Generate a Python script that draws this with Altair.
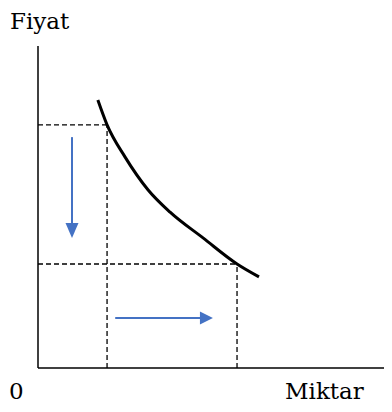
import altair as alt
import pandas as pd

# Demand curve (Miktar, Fiyat) in arbitrary units
curve_q = [1.69, 1.95, 2.46, 3.11, 3.73, 4.66, 5.62, 6.24]
curve_p = [8.32, 7.55, 6.55, 5.53, 4.84, 4.04, 3.23, 2.83]

# Two price/quantity combinations marked by dashed guides
guide_q = [1.95, 5.62]
guide_p = [7.55, 3.23]

# Arrows: price falls, quantity rises
down_q = 0.96
down_p = [7.17, 4.04]
right_p = 1.55
right_q = [2.18, 4.94]

q_max = 9.77
p_max = 10
labels = ["Fiyat", "0", "Miktar"]

BLUE = "#4472C4"
FONT = "DejaVu Serif"
FS = 23

xs = alt.Scale(domain=[0, q_max], nice=False, zero=False)
ys = alt.Scale(domain=[0, p_max], nice=False, zero=False)

curve_df = pd.DataFrame({"q": curve_q, "p": curve_p})

seg_rows = []
for q, p in zip(guide_q, guide_p):
    seg_rows.append({"q": 0, "q2": q, "p": p, "p2": p})
    seg_rows.append({"q": q, "q2": q, "p": 0, "p2": p})
seg_df = pd.DataFrame(seg_rows)

axis_df = pd.DataFrame([
    {"q": 0, "q2": 0, "p": 0, "p2": p_max},
    {"q": 0, "q2": q_max, "p": 0, "p2": 0},
])

shaft_df = pd.DataFrame([
    {"q": down_q, "q2": down_q, "p": down_p[0], "p2": down_p[1] + 0.35},
    {"q": right_q[0], "q2": right_q[1] - 0.3, "p": right_p, "p2": right_p},
])

head_down = pd.DataFrame({"q": [down_q], "p": [down_p[1]]})
head_right = pd.DataFrame({"q": [right_q[1]], "p": [right_p]})

X = alt.X("q:Q", scale=xs, axis=None)
Y = alt.Y("p:Q", scale=ys, axis=None)

axes = alt.Chart(axis_df).mark_rule(color="black", strokeWidth=1.5).encode(
    x=X, x2="q2:Q", y=Y, y2="p2:Q")

guides = alt.Chart(seg_df).mark_rule(color="black", strokeWidth=1.3, strokeDash=[5, 3]).encode(
    x=X, x2="q2:Q", y=Y, y2="p2:Q")

curve = alt.Chart(curve_df).mark_line(color="black", strokeWidth=3, interpolate="monotone").encode(
    x=X, y=Y, order=alt.Order("q:Q"))

shafts = alt.Chart(shaft_df).mark_rule(color=BLUE, strokeWidth=2).encode(
    x=X, x2="q2:Q", y=Y, y2="p2:Q")

hd = alt.Chart(head_down).mark_point(
    shape="M-6.5,-15L6.5,-15L0,0Z", size=4, filled=True, color=BLUE, opacity=1, strokeWidth=0
).encode(x=X, y=Y)

hr = alt.Chart(head_right).mark_point(
    shape="M-13,-6.5L-13,6.5L0,0Z", size=4, filled=True, color=BLUE, opacity=1, strokeWidth=0
).encode(x=X, y=Y)

txt_fiyat = alt.Chart(pd.DataFrame({"t": [labels[0]]})).mark_text(
    font=FONT, fontSize=FS, align="left", baseline="alphabetic", color="black"
).encode(text="t:N", x=alt.value(-28), y=alt.value(-17))

txt_zero = alt.Chart(pd.DataFrame({"t": [labels[1]]})).mark_text(
    font=FONT, fontSize=FS, align="left", baseline="alphabetic", color="black"
).encode(text="t:N", x=alt.value(-29), y=alt.value(353))

txt_miktar = alt.Chart(pd.DataFrame({"t": [labels[2]]})).mark_text(
    font=FONT, fontSize=FS, align="left", baseline="alphabetic", color="black"
).encode(text="t:N", x=alt.value(247), y=alt.value(353))

chart = alt.layer(
    guides, axes, curve, shafts, hd, hr, txt_fiyat, txt_zero, txt_miktar
).properties(
    width=346, height=322,
    autosize=alt.AutoSizeParams(type="none"),
    padding={"left": 30, "top": 38, "right": 0, "bottom": 36},
).configure_view(stroke=None)

chart.save("out.html", embed_options={"renderer": "svg", "actions": False})
